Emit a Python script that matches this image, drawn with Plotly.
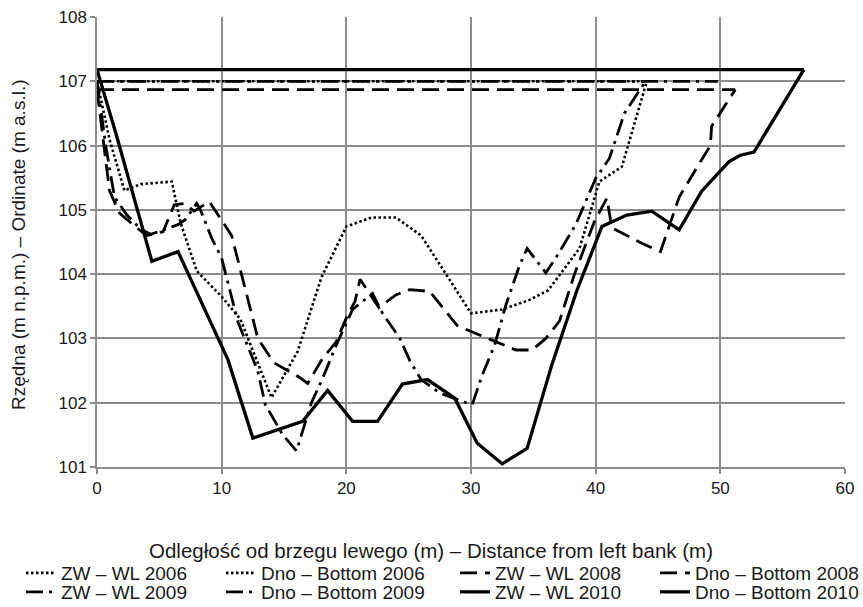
import plotly.graph_objects as go

# ---- data ----
wl2006_x = [0, 44.1]
wl2006_y = [107.0, 107.0]
bot2006_x = [0, 1.0, 2.2, 3.5, 6.0, 6.7, 8.0, 10.0, 11.5, 14.0, 16.1, 18.0, 20.0, 22.0, 24.0, 26.0,
             28.0, 30.0, 32.5, 34.7, 36.2, 38.7, 40.3, 42.1, 44.1]
bot2006_y = [107.0, 106.1, 105.3, 105.4, 105.44, 104.8, 104.05, 103.65, 103.3, 102.08, 102.8, 103.95,
             104.74, 104.88, 104.88, 104.6, 104.0, 103.39, 103.45, 103.6, 103.75, 104.4, 105.44, 105.67, 107.0]

wl2008_x = [0, 51.2]
wl2008_y = [106.87, 106.87]
bot2008_x = [0, 1.0, 1.8, 3.0, 4.0, 5.3, 6.2, 7.0, 7.8, 9.0, 10.3, 10.8, 12.9, 14.2, 16.2, 16.9, 18.1,
             19.2, 20.0, 20.7, 21.1, 22.6, 24.0, 25.1, 26.7, 28.9, 30.1, 32.3, 33.6, 34.9, 36.0, 37.1,
             38.3, 39.9, 40.9, 41.3, 42.4, 43.7, 45.2, 46.7, 48.5, 49.2, 49.3, 51.2]
bot2008_y = [106.87, 105.3, 104.95, 104.75, 104.6, 104.66, 105.08, 105.1, 104.98, 105.13, 104.75, 104.6,
             103.0, 102.62, 102.4, 102.3, 102.69, 102.95, 103.32, 103.58, 103.92, 103.48, 103.68, 103.76,
             103.73, 103.2, 103.1, 102.93, 102.82, 102.82, 103.0, 103.27, 104.0, 104.82, 105.18, 104.72,
             104.61, 104.48, 104.35, 105.2, 105.78, 106.0, 106.3, 106.87]

wl2009_x = [0, 49.8]
wl2009_y = [107.0, 107.0]
bot2009_x = [0, 0.7, 1.4, 2.4, 3.5, 4.3, 5.2, 6.5, 7.1, 8.0, 8.3, 9.2, 10.0, 11.3, 12.9, 13.5, 14.9,
             16.0, 17.2, 18.1, 19.2, 20.5, 22.1, 22.9, 24.3, 25.1, 26.0, 27.5, 29.6, 30.1, 30.9, 31.9,
             32.8, 33.9, 34.5, 36.0, 36.8, 38.4, 40.0, 41.1, 42.3, 44.0]
bot2009_y = [107.0, 106.0, 105.2, 104.92, 104.7, 104.62, 104.68, 104.77, 104.85, 105.1, 105.0, 104.56,
             104.25, 103.26, 102.49, 101.97, 101.5, 101.25, 102.0, 102.38, 102.9, 103.45, 103.7, 103.39,
             103.0, 102.65, 102.36, 102.15, 102.0, 101.97, 102.43, 102.9, 103.52, 104.14, 104.4, 104.02,
             104.25, 104.77, 105.49, 105.8, 106.5, 107.0]

wl2010_x = [0, 56.7]
wl2010_y = [107.18, 107.18]
bot2010_x = [0, 1.5, 4.4, 6.5, 10.5, 12.5, 16.5, 18.5, 20.5, 22.5, 24.5, 26.5, 28.7, 30.5, 32.5, 34.5,
             36.5, 38.5, 40.5, 42.5, 44.5, 46.7, 48.5, 50.7, 51.6, 52.7, 56.7]
bot2010_y = [107.18, 106.2, 104.2, 104.35, 102.67, 101.45, 101.71, 102.19, 101.71, 101.71, 102.29, 102.36,
             102.07, 101.37, 101.05, 101.29, 102.6, 103.75, 104.74, 104.92, 104.98, 104.69, 105.29,
             105.75, 105.85, 105.9, 107.18]

x_ticks = [0, 10, 20, 30, 40, 50, 60]
y_ticks = [101, 102, 103, 104, 105, 106, 107, 108]

x_title = "Odległość od brzegu lewego (m) – Distance from left bank (m)"
y_title = "Rzędna (m n.p.m.) – Ordinate (m a.s.l.)"

DOT = "2.5px,2.5px"
DASH = "17px,8px"
DASHDOT = "17px,6px,3px,6px"

# name, x, y, dash, width
series = [
    ("ZW – WL 2006", wl2006_x, wl2006_y, DOT, 2.6),
    ("Dno – Bottom 2006", bot2006_x, bot2006_y, DOT, 2.6),
    ("ZW – WL 2008", wl2008_x, wl2008_y, DASH, 2.8),
    ("Dno – Bottom 2008", bot2008_x, bot2008_y, DASH, 2.8),
    ("ZW – WL 2009", wl2009_x, wl2009_y, DASHDOT, 2.8),
    ("Dno – Bottom 2009", bot2009_x, bot2009_y, DASHDOT, 2.8),
    ("ZW – WL 2010", wl2010_x, wl2010_y, "solid", 3.3),
    ("Dno – Bottom 2010", bot2010_x, bot2010_y, "solid", 3.3),
]

W, H = 863, 607
L, R, T, B = 97, 18, 17, 140
PW, PH = W - L - R, H - T - B

# legend grid: text start x (px) per column, row centre y (px)
col_text_x = [63, 263, 497, 697]
row_y = [573, 592]

FONT = "Liberation Sans, Arial, sans-serif"
TXT = "#1a1a1a"
GRID = "#8c8c8c"

fig = go.Figure()
legends = {}
for i, (name, xs, ys, dash, w) in enumerate(series):
    lid = "legend" if i == 0 else f"legend{i + 1}"
    fig.add_trace(go.Scatter(x=xs, y=ys, mode="lines", name=name, legend=lid,
                             line=dict(color="black", width=w, dash=dash)))
    col, row = i % 4, i // 4
    legends[lid] = dict(
        xref="container", yref="container",
        x=(col_text_x[col] - 42) / W, y=1 - row_y[row] / H,
        xanchor="left", yanchor="middle", orientation="v",
        bgcolor="rgba(0,0,0,0)", borderwidth=0, itemwidth=30,
        font=dict(family=FONT, size=19, color=TXT),
    )

def px_x(px):
    return (px - L) / PW

def px_y(py):
    return (H - B - py) / PH

fig.update_layout(
    width=W, height=H,
    margin=dict(l=L, r=R, t=T, b=B, autoexpand=False),
    paper_bgcolor="white", plot_bgcolor="white",
    font=dict(family=FONT, size=17, color=TXT),
    showlegend=True,
    **legends,
    xaxis=dict(range=[0, 60], tickvals=x_ticks, showgrid=True, gridcolor=GRID, gridwidth=1.5,
               zeroline=False, showline=True, linecolor=GRID, linewidth=1.5,
               ticks="outside", ticklen=5, tickcolor=GRID, tickwidth=1.5,
               tickfont=dict(family=FONT, size=17, color=TXT)),
    yaxis=dict(range=[101, 108], tickvals=y_ticks, showgrid=True, gridcolor=GRID, gridwidth=1.5,
               zeroline=False, showline=True, linecolor=GRID, linewidth=1.5,
               ticks="outside", ticklen=5, tickcolor=GRID, tickwidth=1.5,
               tickfont=dict(family=FONT, size=17, color=TXT)),
    annotations=[
        dict(text=x_title, xref="paper", yref="paper", x=px_x(431), y=px_y(550),
             xanchor="center", yanchor="middle", showarrow=False,
             font=dict(family=FONT, size=20.5, color=TXT)),
        dict(text=y_title, xref="paper", yref="paper", x=px_x(19), y=px_y(245),
             xanchor="center", yanchor="middle", showarrow=False, textangle=-90,
             font=dict(family=FONT, size=19, color=TXT)),
    ],
)

fig.write_html("out.html")
